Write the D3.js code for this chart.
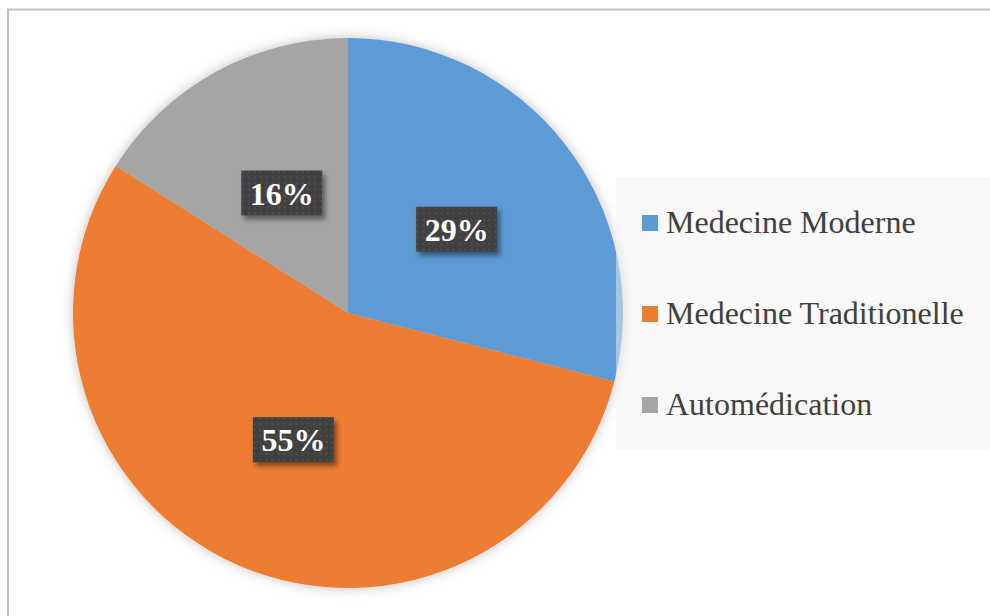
<!DOCTYPE html>
<html>
<head>
    <meta charset="utf-8">
    <title>Pie</title>
    <script src="https://d3js.org/d3.v7.min.js"></script>
    <style>
        body { margin: 0; background: #fff; }
    </style>
</head>
<body>
<div id="chart"></div>

<script type="text/javascript">

    let categories = ["Medecine Moderne", "Medecine Traditionelle", "Automédication"];
    let values = [29, 55, 16];
    let labels = ["29%", "55%", "16%"];
    let colors = ["#5b9bd5", "#ed7d31", "#a5a5a5"];

    let w = 990, h = 616;
    let cx = 348, cy = 313, r = 275;

    let svg = d3.select("#chart")
            .append("svg")
                .attr("width", w)
                .attr("height", h);

    let defs = svg.append("defs");

    // ombre douce autour du camembert
    let glow = defs.append("filter")
        .attr("id", "glow")
        .attr("x", "-20%").attr("y", "-20%")
        .attr("width", "140%").attr("height", "140%");
    glow.append("feDropShadow")
        .attr("dx", 0).attr("dy", 0)
        .attr("stdDeviation", 6)
        .attr("flood-color", "#000")
        .attr("flood-opacity", 0.25);

    let shadow = defs.append("filter")
        .attr("id", "shadow")
        .attr("x", "-30%").attr("y", "-30%")
        .attr("width", "160%").attr("height", "170%");
    shadow.append("feDropShadow")
        .attr("dx", 3).attr("dy", 4)
        .attr("stdDeviation", 2.5)
        .attr("flood-color", "#000")
        .attr("flood-opacity", 0.45);

    // motif pointillé des étiquettes
    let pat = defs.append("pattern")
        .attr("id", "dots")
        .attr("width", 6).attr("height", 6)
        .attr("patternUnits", "userSpaceOnUse");
    pat.append("rect").attr("width", 6).attr("height", 6).attr("fill", "#404040");
    pat.append("rect").attr("x", 2).attr("y", 2).attr("width", 2).attr("height", 2).attr("fill", "#505050");

    // cadre
    svg.append("path")
        .attr("d", "M8," + h + " L8,9.5 L" + w + ",9.5")
        .attr("fill", "none")
        .attr("stroke", "#bfbfbf")
        .attr("stroke-width", 2);

    let pie = d3.pie().sort(null).value(function(d){ return d; });
    let arcs = pie(values);

    let arc = d3.arc().innerRadius(0).outerRadius(r);

    let g = svg.append("g")
        .attr("transform", "translate(" + cx + "," + cy + ")");

    g.append("g")
        .attr("filter", "url(#glow)")
        .selectAll("path")
        .data(arcs)
        .enter()
        .append("path")
        .attr("d", arc)
        .attr("fill", function(d, i){ return colors[i]; });

    // légende
    let legend = svg.append("g");
    legend.append("rect")
        .attr("x", 616).attr("y", 177)
        .attr("width", w - 616).attr("height", 273)
        .attr("fill", "#f2f2f2")
        .attr("fill-opacity", 0.5);

    let items = legend.selectAll("g.item")
        .data(categories)
        .enter()
        .append("g")
        .attr("transform", function(d, i){ return "translate(642," + (233 + i * 91) + ")"; });

    items.append("rect")
        .attr("x", 0).attr("y", -18)
        .attr("width", 16).attr("height", 16)
        .attr("fill", function(d, i){ return colors[i]; });

    items.append("text")
        .attr("x", 24)
        .attr("y", 0)
        .attr("font-family", "'Liberation Serif', 'Times New Roman', serif")
        .attr("font-size", "32px")
        .attr("fill", "#404040")
        .text(function(d){ return d; });

    // étiquettes
    let lab = g.selectAll("g.lab")
        .data(arcs)
        .enter()
        .append("g")
        .attr("transform", function(d){
            let c = arc.centroid(d);
            return "translate(" + c[0] + "," + c[1] + ")";
        });

    lab.append("rect")
        .attr("x", -40.5).attr("y", -22)
        .attr("width", 81).attr("height", 45)
        .attr("fill", "url(#dots)")
        .attr("filter", "url(#shadow)");

    lab.append("text")
        .attr("y", 12)
        .attr("text-anchor", "middle")
        .attr("font-family", "'Liberation Serif', 'Times New Roman', serif")
        .attr("font-weight", "bold")
        .attr("font-size", "32px")
        .attr("fill", "#fff")
        .text(function(d, i){ return labels[i]; });

</script>
</body>
</html>
